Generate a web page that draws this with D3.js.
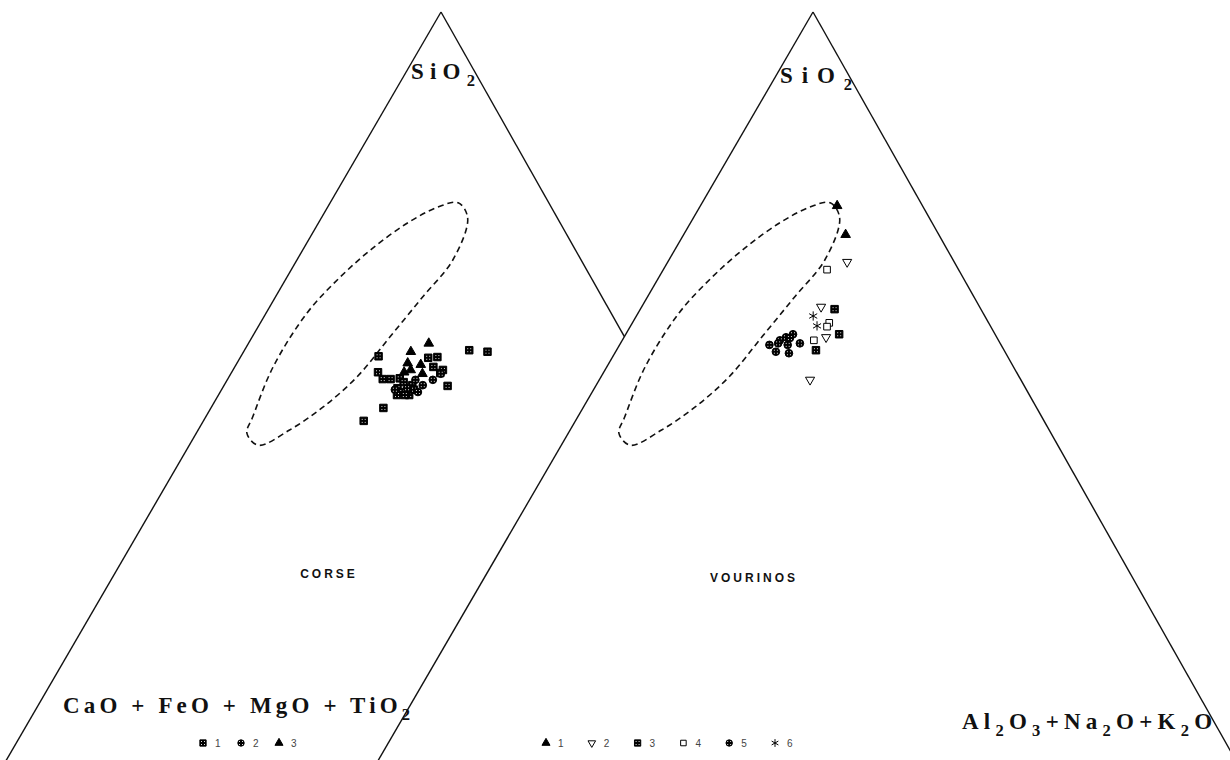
<!DOCTYPE html>
<html lang="en">
<head>
<meta charset="utf-8">
<title>SiO2 / CaO+FeO+MgO+TiO2 / Al2O3+Na2O+K2O - Corse, Vourinos</title>
<script src="https://cdn.jsdelivr.net/npm/d3@7"></script>
<style>
  body { margin: 0; background: #fff; }
  svg { display: block; }
  .edge { stroke: #111; stroke-width: 1.4; fill: none; }
  .field { stroke: #111; stroke-width: 1.6; fill: none; stroke-dasharray: 6 4; }
  .comp { font-family: "Liberation Serif", "DejaVu Serif", serif; font-weight: bold; fill: #111; }
  .site { font-family: "Liberation Sans", "DejaVu Sans", sans-serif; font-weight: bold; font-size: 12px; letter-spacing: 3px; fill: #111; }
  .leg { font-family: "Liberation Sans", "DejaVu Sans", sans-serif; font-size: 10px; fill: #444; }
</style>
</head>
<body>
<svg width="1230" height="760"></svg>
<script>
// ternary compositions in % : [SiO2, CaO+FeO+MgO+TiO2, Al2O3+Na2O+K2O]
var corse1 = [ // squares
  [55.5, 18.7, 25.8], [55.3, 16.7, 28.0], [54.5, 23.9, 21.6], [54.6, 22.8, 22.6],
  [54.7, 29.5, 15.8], [53.3, 23.9, 22.8], [52.9, 23.0, 24.1], [52.5, 23.5, 24.0],
  [52.6, 30.6, 16.8], [51.7, 30.5, 17.8], [51.7, 29.6, 18.7], [50.8, 23.5, 25.7],
  [49.6, 28.5, 21.9], [47.9, 32.3, 19.8], [46.2, 35.4, 18.4], [51.8, 28.5, 19.7],
  [51.3, 28.3, 20.4], [50.5, 29.4, 20.1], [50.0, 29.1, 20.9], [49.6, 29.0, 21.4],
  [49.6, 29.9, 20.5], [50.9, 27.5, 21.6], [50.3, 27.6, 22.1]
];
var corse2 = [ // circles
  [51.6, 24.8, 23.6], [50.9, 26.3, 22.8], [50.0, 27.3, 22.7], [50.5, 28.3, 21.2],
  [51.6, 26.8, 21.6], [50.3, 29.8, 19.9], [52.4, 23.5, 24.1]
];
var corse3 = [ // triangles
  [56.4, 22.9, 20.7], [55.3, 25.5, 19.2], [53.8, 26.6, 19.6], [53.6, 25.2, 21.2],
  [52.4, 25.6, 22.0], [52.9, 26.7, 20.4], [52.6, 27.6, 19.8]
];

var vourinos1 = [[74.5, 9.8, 15.7], [70.7, 10.7, 18.6]];
var vourinos2 = [[67.1, 12.3, 20.6], [61.2, 18.2, 20.6], [57.2, 19.6, 23.2], [51.6, 24.2, 24.2]];
var vourinos3 = [[60.9, 16.8, 22.3], [57.6, 17.9, 24.5], [55.5, 21.6, 22.9]];
var vourinos4 = [[66.1, 15.1, 18.8], [59.1, 18.3, 22.6], [58.6, 18.8, 22.6], [56.8, 21.2, 22.0]];
var vourinos5 = [
  [57.6, 23.2, 19.2], [57.2, 24.2, 18.6], [56.8, 25.1, 18.1], [57.1, 23.8, 19.1],
  [56.4, 23.0, 20.6], [56.2, 26.6, 17.2], [55.3, 26.3, 18.4], [55.1, 24.9, 20.0],
  [56.2, 24.5, 19.3], [56.4, 25.5, 18.1]
];
var vourinos6 = [[60.0, 19.7, 20.3], [58.7, 19.9, 21.4]];

// dashed reference field, same in both diagrams
var fieldOutline = [
  [74.9, 10.4, 14.7], [72.9, 10.3, 16.8], [67.4, 14.7, 17.9], [62.5, 20.6, 16.9],
  [57.2, 27.0, 15.8], [52.0, 33.3, 14.7], [48.0, 39.2, 12.8], [45.0, 44.5, 10.5],
  [43.0, 49.1, 7.9], [44.6, 49.6, 5.8], [46.7, 47.9, 5.4], [53.3, 42.3, 4.4],
  [60.4, 34.9, 4.7], [65.1, 28.8, 6.1], [68.9, 23.2, 7.9], [72.2, 17.6, 10.2],
  [74.3, 13.1, 12.6]
];

var corseLegend = ["1", "2", "3"];
var vourinosLegend = ["1", "2", "3", "4", "5", "6"];

// styles of the symbols
var styles = {
  square:   { type: d3.symbolSquare,   size: 56, fill: "url(#stip)", stroke: "#000", rot: 0 },
  circle:   { type: d3.symbolCircle,   size: 46, fill: "url(#stip)", stroke: "#000", rot: 0 },
  triangle: { type: d3.symbolTriangle, size: 40, fill: "#000", stroke: "#000", rot: 0 },
  down:     { type: d3.symbolTriangle, size: 36, fill: "#fff", stroke: "#000", rot: 180 },
  open:     { type: d3.symbolSquare,   size: 44, fill: "#fff", stroke: "#000", rot: 0 },
  star:     { type: d3.symbolAsterisk, size: 60, fill: "none", stroke: "#000", rot: 0 }
};

var svg = d3.select("svg");

// stipple fill like the printed symbols
var pat = svg.append("defs").append("pattern")
  .attr("id", "stip").attr("width", 3).attr("height", 3)
  .attr("patternUnits", "userSpaceOnUse");
pat.append("rect").attr("width", 3).attr("height", 3).attr("fill", "#000");
pat.append("rect").attr("x", 1).attr("y", 1).attr("width", 1).attr("height", 1).attr("fill", "#ddd");

// geometry of the two diagrams (second one lies over the first)
var topY = 12, baseY = 772, leftRun = 0.581, rightRun = 0.565;
var panels = [
  { site: "CORSE", apexX: 441, siteX: 329, siteY: 578,
    groups: [[corse1, "square"], [corse2, "circle"], [corse3, "triangle"]],
    legend: corseLegend, legendStyles: ["square", "circle", "triangle"], legX: 203, legStep: 38,
    sio2: { x: 411, y: 79, w: 64 } },
  { site: "VOURINOS", apexX: 813, siteX: 754, siteY: 582,
    groups: [[vourinos1, "triangle"], [vourinos2, "down"], [vourinos3, "square"],
             [vourinos4, "open"], [vourinos5, "circle"], [vourinos6, "star"]],
    legend: vourinosLegend, legendStyles: ["triangle", "down", "square", "open", "circle", "star"],
    legX: 546, legStep: 45.8,
    sio2: { x: 780, y: 83, w: 72 } }
];

panels.forEach(function (p) {
  var h = baseY - topY;
  p.k = leftRun / (leftRun + rightRun);
  p.x = d3.scaleLinear().domain([0, 1]).range([p.apexX - leftRun * h, p.apexX + rightRun * h]);
  p.y = d3.scaleLinear().domain([0, 1]).range([baseY, topY]);
  p.proj = function (d) {
    var s = d[0] + d[1] + d[2], a = d[0] / s, c = d[2] / s;
    return [p.x(c + p.k * a), p.y(a)];
  };
});

// where the first diagram's right side disappears under the second one
var W0 = panels[0].x.range()[1] - panels[0].x.range()[0];
var aCut = (panels[0].x.range()[0] + W0 - panels[1].x.range()[0]) / W0;

var line = d3.line();
var fieldLine = d3.line().curve(d3.curveCatmullRomClosed.alpha(0.5));

function addText(g, parts, x, y, size, width, cls) {
  var t = g.append("text").attr("class", cls).attr("x", x).attr("y", y).style("font-size", size + "px");
  var wasSub = false;
  parts.forEach(function (pt) {
    var ts = t.append("tspan").text(pt[0]);
    if (pt[1]) ts.attr("dy", size * 0.3).style("font-size", (size * 0.72) + "px");
    else if (wasSub) ts.attr("dy", -size * 0.3);
    wasSub = !!pt[1];
  });
  // stretch with letter spacing to fit the printed width
  var n = parts.reduce(function (s, pt) { return s + pt[0].length; }, 0);
  var w0 = t.node().getBBox().width;
  t.style("letter-spacing", ((width - w0) / (n - 1)) + "px");
  return t;
}

panels.forEach(function (p, i) {
  var g = svg.append("g");

  // sides
  var rightEnd = i === 0 ? [aCut * 100, 0, (1 - aCut) * 100] : [0, 0, 100];
  g.append("path").attr("class", "edge").attr("d", line([p.proj([100, 0, 0]), p.proj([0, 100, 0])]));
  g.append("path").attr("class", "edge").attr("d", line([p.proj([100, 0, 0]), p.proj(rightEnd)]));

  // field
  g.append("path").attr("class", "field").attr("d", fieldLine(fieldOutline.map(p.proj)));

  // samples
  p.groups.forEach(function (grp) {
    var st = styles[grp[1]];
    g.selectAll(null).data(grp[0]).enter().append("path")
      .attr("d", d3.symbol().type(st.type).size(st.size))
      .attr("transform", function (d) { var q = p.proj(d); return "translate(" + q[0] + "," + q[1] + ") rotate(" + st.rot + ")"; })
      .attr("fill", st.fill).attr("stroke", st.stroke).attr("stroke-width", 1);
  });

  // apex label
  addText(g, [["SiO", 0], ["2", 1]], p.sio2.x, p.sio2.y, 23, p.sio2.w, "comp");

  // site name
  g.append("text").attr("class", "site").attr("x", p.siteX).attr("y", p.siteY)
    .attr("text-anchor", "middle").text(p.site);

  // legend
  p.legend.forEach(function (lab, j) {
    var st = styles[p.legendStyles[j]];
    var lx = p.legX + j * p.legStep;
    g.append("path").attr("d", d3.symbol().type(st.type).size(st.size * 0.7))
      .attr("transform", "translate(" + lx + ",743) rotate(" + st.rot + ")")
      .attr("fill", st.fill).attr("stroke", st.stroke).attr("stroke-width", 1);
    g.append("text").attr("class", "leg").attr("x", lx + 12).attr("y", 747).text(lab);
  });
});

// base corner labels
addText(svg, [["CaO + FeO + MgO + TiO", 0], ["2", 1]], 63, 713, 23, 347, "comp");
addText(svg, [["Al", 0], ["2", 1], ["O", 0], ["3", 1], ["+Na", 0], ["2", 1], ["O+K", 0], ["2", 1], ["O", 0]],
  962, 729, 23, 250, "comp");
</script>
</body>
</html>
